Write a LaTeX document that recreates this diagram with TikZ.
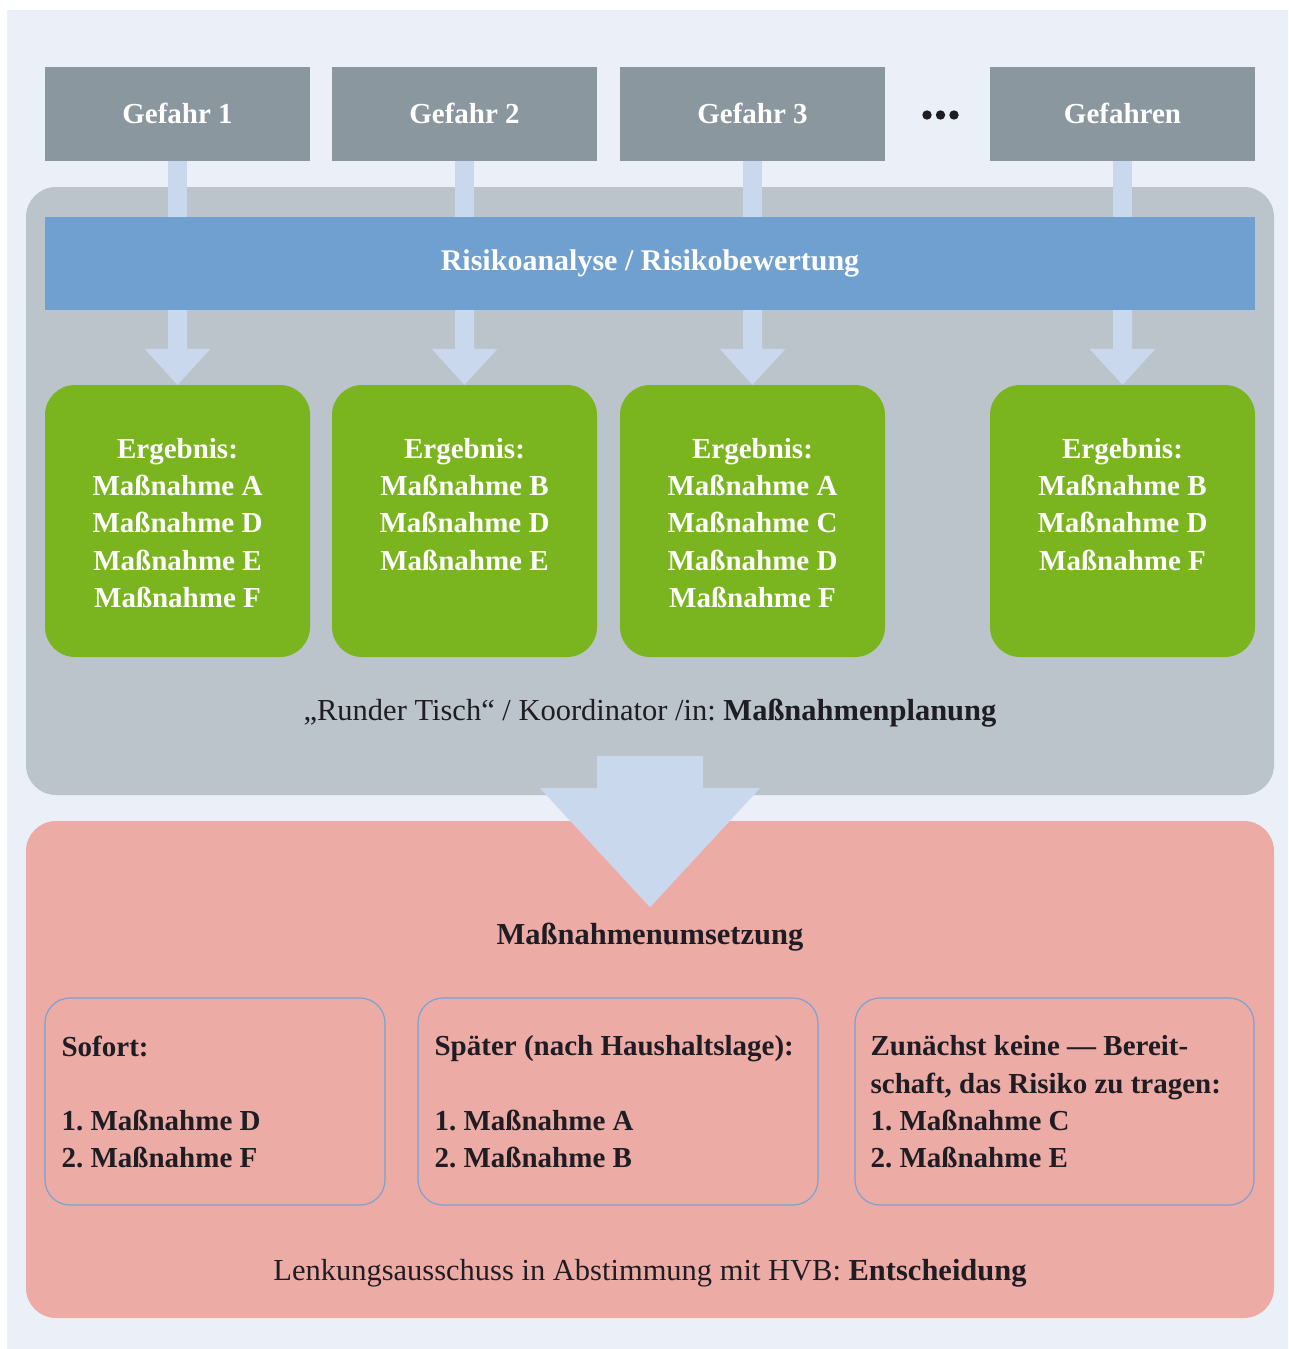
\documentclass[tikz,border=0pt]{standalone}
\usepackage{fontspec}
\setmainfont{Liberation Serif}
\usetikzlibrary{calc}
\definecolor{bgc}{HTML}{EBF0F8}
\definecolor{gefc}{HTML}{8A979E}
\definecolor{panc}{HTML}{BCC4CB}
\definecolor{barc}{HTML}{6FA0CF}
\definecolor{shaftc}{HTML}{CAD8EE}
\definecolor{grnc}{HTML}{7AB51F}
\definecolor{pinkc}{HTML}{EDABA6}
\definecolor{linec}{HTML}{78A3D4}
\definecolor{txtc}{HTML}{1F1D24}
\frenchspacing
\begin{document}
\begin{tikzpicture}[x=1pt,y=-1pt,
  gef/.style={fill=gefc, minimum width=265pt, minimum height=94pt, inner sep=0pt, text=white, font=\fontsize{29}{36}\selectfont\bfseries},
  panel/.style={rounded corners=30pt, inner sep=0pt},
  grn/.style={fill=grnc, rounded corners=30pt, minimum width=265pt, minimum height=272pt, inner sep=0pt},
  grntxt/.style={anchor=north, align=center, inner sep=0pt, text=white, font=\fontsize{29}{37.3}\selectfont\bfseries},
  ibox/.style={draw=linec, line width=1.2pt, rounded corners=25pt, minimum height=207pt, inner sep=0pt},
  itxt/.style={anchor=north west, align=left, inner sep=0pt, text=txtc, font=\fontsize{29}{37.3}\selectfont\bfseries},
  caption/.style={text=txtc, inner sep=0pt, font=\fontsize{30.5}{36}\selectfont},
  shaft/.style={fill=shaftc}]
\useasboundingbox (0,0) rectangle (1288,1349);
\fill[white] (0,0) rectangle (1288,1349);
\fill[bgc] (7,10) rectangle (1288,1349);

% panels
\node[panel, fill=panc, minimum width=1248pt, minimum height=608pt] (pan) at (650,491) {};
\node[panel, fill=pinkc, minimum width=1248pt, minimum height=497pt] (pnk) at (650,1069.5) {};

% hazards
\node[gef] (g1) at (177.5,114) {\raisebox{2pt}{Gefahr 1}};
\node[gef] (g2) at (464.5,114) {\raisebox{2pt}{Gefahr 2}};
\node[gef] (g3) at (752.5,114) {\raisebox{2pt}{Gefahr 3}};
\node[gef] (g4) at (1122.5,114) {\raisebox{2pt}{Gefahren}};
\node[inner sep=0pt, minimum width=40pt, minimum height=12pt] (dots) at (940.5,115) {};
\foreach \dx in {-13.5,0,13.5} \fill[txtc] ($(dots.center)+(\dx,0)$) circle (4.7pt);

% bar
\node[fill=barc, minimum width=1210pt, minimum height=93pt, inner sep=0pt, text=white,
      font=\fontsize{30}{36}\selectfont\bfseries] (bar) at (650,263.5) {Risikoanalyse / Risikobewertung};

% result boxes
\node[grn] (e1) at (177.5,521) {};
\node[grn] (e2) at (464.5,521) {};
\node[grn] (e3) at (752.5,521) {};
\node[grn] (e4) at (1122.5,521) {};
\node[grntxt] (t1) at ($(e1.north)+(0,53)$) {Ergebnis:\\Maßnahme A\\Maßnahme D\\Maßnahme E\\Maßnahme F};
\node[grntxt] (t2) at ($(e2.north)+(0,53)$) {Ergebnis:\\Maßnahme B\\Maßnahme D\\Maßnahme E};
\node[grntxt] (t3) at ($(e3.north)+(0,53)$) {Ergebnis:\\Maßnahme A\\Maßnahme C\\Maßnahme D\\Maßnahme F};
\node[grntxt] (t4) at ($(e4.north)+(0,53)$) {Ergebnis:\\Maßnahme B\\Maßnahme D\\Maßnahme F};

% connectors
\foreach \i in {1,2,3,4}{
  \fill[shaftc] ($(g\i.south)+(-9.5,0)$) rectangle ($(g\i.south |- bar.north)+(9.5,0)$);
  \fill[shaftc] ($(e\i.north |- bar.south)+(-9.5,0)$) -- ($(e\i.north)+(-9.5,-36)$) -- ($(e\i.north)+(-33,-36)$)
     -- (e\i.north) -- ($(e\i.north)+(33,-36)$) -- ($(e\i.north)+(9.5,-36)$) -- ($(e\i.north |- bar.south)+(9.5,0)$) -- cycle;
}

\node[caption] (plan) at (650,713) {„Runder Tisch“ / Koordinator /in: \textbf{Maßnahmenplanung}};

% big arrow
\coordinate (bigtip) at ($(pan.south)+(0,112)$);
\fill[shaftc] (bigtip) -- ++(-110,-119) -- ++(57,0) -- ++(0,-32) -- ++(106,0) -- ++(0,32) -- ++(57,0) -- cycle;

\node[caption, font=\fontsize{30.5}{36}\selectfont\bfseries] (ums) at (650,937) {Maßnahmenumsetzung};

% implementation boxes
\node[ibox, minimum width=340pt] (b1) at (215,1101.5) {};
\node[ibox, minimum width=400pt] (b2) at (618,1101.5) {};
\node[ibox, minimum width=399pt] (b3) at (1054.5,1101.5) {};
\node[itxt] (bt1) at ($(b1.north west)+(17,38)$) {Sofort:\\[37.3pt]1. Maßnahme D\\2. Maßnahme F};
\node[itxt] (bt2) at ($(b2.north west)+(17,38)$) {Später (nach Haushaltslage):\\[37.3pt]1. Maßnahme A\\2. Maßnahme B};
\node[itxt] (bt3) at ($(b3.north west)+(16,38)$) {Zunächst keine — Bereit-\\schaft, das Risiko zu tragen:\\1. Maßnahme C\\2. Maßnahme E};

\node[caption] (ent) at (650,1273) {Lenkungsausschuss in Abstimmung mit HVB: \textbf{Entscheidung}};
\end{tikzpicture}
\end{document}
